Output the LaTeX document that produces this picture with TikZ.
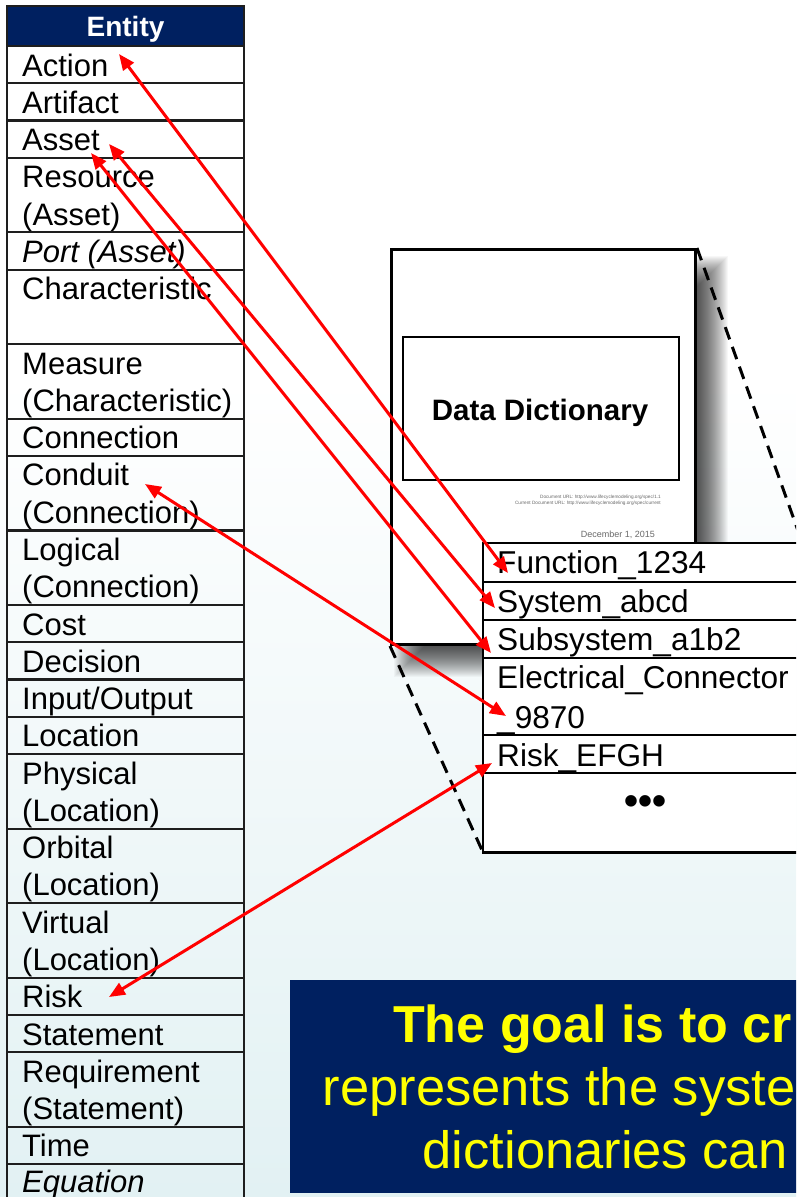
\documentclass[tikz,border=0pt]{standalone}
\usepackage{fontspec}
\setmainfont{Liberation Sans}
\usetikzlibrary{arrows.meta}
\definecolor{navy}{RGB}{0,32,96}
\definecolor{bgtint}{RGB}{226,241,243}
\definecolor{linkred}{RGB}{255,0,0}
\definecolor{banneryellow}{RGB}{255,255,0}
\definecolor{fineprint}{RGB}{105,105,105}
\definecolor{gridline}{RGB}{30,30,30}

\tikzset{
  rowtxt/.style={anchor=base west, inner sep=0pt, font=\fontsize{31}{36}\selectfont},
  cell/.style={draw=gridline, line width=2.2pt},
  ztxt/.style={anchor=base west, inner sep=0pt, font=\fontsize{31.6}{38}\selectfont},
  zline/.style={draw=black, line width=2.5pt},
  pagebox/.style={draw=black, line width=3pt, fill=white, anchor=north west, inner sep=0pt},
  dashline/.style={draw=black, line width=3pt, dash pattern=on 13pt off 8pt},
  link/.style={draw=linkred, line width=3pt, <->, >={Triangle[length=16pt,width=13pt]}},
  fine/.style={anchor=base east, inner sep=0pt, text=fineprint, font=\fontsize{4.7}{5}\selectfont},
  bannertxt/.style={anchor=base west, inner sep=0pt, text=banneryellow},
}

\begin{document}
\begin{tikzpicture}[x=1pt,y=-1pt]
\useasboundingbox (0,0) rectangle (796,1197);
\begin{scope}
\clip (0,0) rectangle (796,1197);

% slide background
\fill[white] (0,0) rectangle (796,1197);
\shade[top color=white, bottom color=bgtint] (0,380) rectangle (796,1197);

% ---------------- entity table ----------------
\fill[navy] (7,6) rectangle (244,46);
\draw[cell] (7,6) rectangle (244,46);
\node[anchor=base, inner sep=0pt, text=white, font=\bfseries\fontsize{28}{32}\selectfont] (entity) at (125.5,36) {Entity};

\draw[cell] (7,46) rectangle (244,83.27);
\node[rowtxt] (action) at (22,76) {Action};
\draw[cell] (7,83.27) rectangle (244,120.54);
\node[rowtxt] (artifact) at (22,113.27) {Artifact};
\draw[cell] (7,120.54) rectangle (244,157.81);
\node[rowtxt] (asset) at (22,150.54) {Asset};
\draw[cell] (7,157.81) rectangle (244,232.35);
\node[rowtxt] (resource) at (22,187.81) {Resource};
\node[rowtxt] (resource2) at (22,225.08) {(Asset)};
\draw[cell] (7,232.35) rectangle (244,269.62);
\node[rowtxt] (port) at (22,262.35) {\itshape Port (Asset)};
\draw[cell] (7,269.62) rectangle (244,344.16);
\node[rowtxt] (charac) at (22,299.62) {Characteristic};
\draw[cell] (7,344.16) rectangle (244,418.7);
\node[rowtxt] (measure) at (22,374.16) {Measure};
\node[rowtxt] (measure2) at (22,411.43) {(Characteristic)};
\draw[cell] (7,418.7) rectangle (244,455.97);
\node[rowtxt] (connection) at (22,448.7) {Connection};
\draw[cell] (7,455.97) rectangle (244,530.51);
\node[rowtxt] (conduit) at (22,485.97) {Conduit};
\node[rowtxt] (conduit2) at (22,523.24) {(Connection)};
\draw[cell] (7,530.51) rectangle (244,605.05);
\node[rowtxt] (logical) at (22,560.51) {Logical};
\node[rowtxt] (logical2) at (22,597.78) {(Connection)};
\draw[cell] (7,605.05) rectangle (244,642.32);
\node[rowtxt] (cost) at (22,635.05) {Cost};
\draw[cell] (7,642.32) rectangle (244,679.59);
\node[rowtxt] (decision) at (22,672.32) {Decision};
\draw[cell] (7,679.59) rectangle (244,716.86);
\node[rowtxt] (inout) at (22,709.59) {Input/Output};
\draw[cell] (7,716.86) rectangle (244,754.13);
\node[rowtxt] (location) at (22,746.86) {Location};
\draw[cell] (7,754.13) rectangle (244,828.67);
\node[rowtxt] (physical) at (22,784.13) {Physical};
\node[rowtxt] (physical2) at (22,821.4) {(Location)};
\draw[cell] (7,828.67) rectangle (244,903.21);
\node[rowtxt] (orbital) at (22,858.67) {Orbital};
\node[rowtxt] (orbital2) at (22,895.94) {(Location)};
\draw[cell] (7,903.21) rectangle (244,977.75);
\node[rowtxt] (virtual) at (22,933.21) {Virtual};
\node[rowtxt] (virtual2) at (22,970.48) {(Location)};
\draw[cell] (7,977.75) rectangle (244,1015.02);
\node[rowtxt] (risk) at (22,1007.75) {Risk};
\draw[cell] (7,1015.02) rectangle (244,1052.29);
\node[rowtxt] (statement) at (22,1045.02) {Statement};
\draw[cell] (7,1052.29) rectangle (244,1126.83);
\node[rowtxt] (requirement) at (22,1082.29) {Requirement};
\node[rowtxt] (requirement2) at (22,1119.56) {(Statement)};
\draw[cell] (7,1126.83) rectangle (244,1164.1);
\node[rowtxt] (time) at (22,1156.83) {Time};
\draw[cell] (7,1164.1) rectangle (244,1201.37);
\node[rowtxt] (equation) at (22,1192.5) {\itshape Equation};

% ---------------- banner ----------------
\fill[navy] (290,980) rectangle (806,1193);
\node[bannertxt, font=\bfseries\fontsize{52}{63}\selectfont] (goal1) at (393,1042) {The goal is to cr};
\node[bannertxt, font=\fontsize{52.5}{63}\selectfont] (goal2) at (322.5,1105) {represents the syste};
\node[bannertxt, font=\fontsize{52.5}{63}\selectfont] (goal3) at (422.5,1168) {dictionaries can};

% ---------------- document cover page ----------------
% soft drop shadow built from stacked translucent layers
\foreach \i in {0,...,30}
  \fill[black, opacity=0.03] ({394+\i},{256+\i}) rectangle ({728-\i},{677-\i});
\node[pagebox, minimum width=304pt, minimum height=395pt] (page) at (390,248) {};
\node[draw=black, line width=2pt, anchor=north west, inner sep=0pt,
      minimum width=276pt, minimum height=143pt] (titlebox) at (402,336) {};
\node[anchor=base, inner sep=0pt, font=\bfseries\fontsize{29.5}{34}\selectfont] (title) at (540,420) {Data Dictionary};
\node[fine] (url1) at (661,498) {Document URL: http://www.lifecyclemodeling.org/spec/1.1};
\node[fine] (url2) at (661,504.5) {Current Document URL: http://www.lifecyclemodeling.org/spec/current};
\node[anchor=base east, inner sep=0pt, text=fineprint, font=\fontsize{9}{10}\selectfont] (date) at (655,537) {December 1, 2015};

% ---------------- zoomed dictionary entries ----------------
\node[anchor=north west, fill=white, inner sep=0pt, minimum width=319pt, minimum height=309pt] (ztab) at (483,543) {};
\draw[dashline] (page.north east) -- (ztab.north east);
\draw[dashline] (page.south west) -- (ztab.south west);
\draw[zline] (ztab.north west) rectangle (ztab.south east);
\draw[zline] (483,582) -- (802,582);
\draw[zline] (483,620) -- (802,620);
\draw[zline] (483,658) -- (802,658);
\draw[zline] (483,735) -- (802,735);
\draw[zline] (483,773) -- (802,773);
\node[ztxt] (zfunc) at (497,573) {Function\_1234};
\node[ztxt] (zsys) at (497,612) {System\_abcd};
\node[ztxt] (zsub) at (497,650) {Subsystem\_a1b2};
\node[ztxt] (zelec) at (497,688) {Electrical\_Connector};
\node[ztxt] (zelec2) at (497,728) {\_9870};
\node[ztxt] (zrisk) at (497,766) {Risk\_EFGH};
\node[anchor=base, inner sep=0pt, font=\bfseries\fontsize{40}{40}\selectfont] (zmore) at (645,814) {•••};

% ---------------- mapping links ----------------
\coordinate (pAction) at (119,54);
\coordinate (pAssetA) at (109,144);
\coordinate (pAssetB) at (91,153);
\coordinate (pConduit) at (145,484);
\coordinate (pRisk) at (109,997);
\coordinate (pFunc) at (508,573);
\coordinate (pSys) at (495,608);
\coordinate (pSub) at (491,653);
\coordinate (pElec) at (506,716);
\coordinate (pRiskE) at (492,763);

\draw[link] (pAction) -- (pFunc);
\draw[link] (pAssetA) -- (pSys);
\draw[link] (pAssetB) -- (pSub);
\draw[link] (pConduit) -- (pElec);
\draw[link] (pRisk) -- (pRiskE);
\end{scope}
\end{tikzpicture}
\end{document}
